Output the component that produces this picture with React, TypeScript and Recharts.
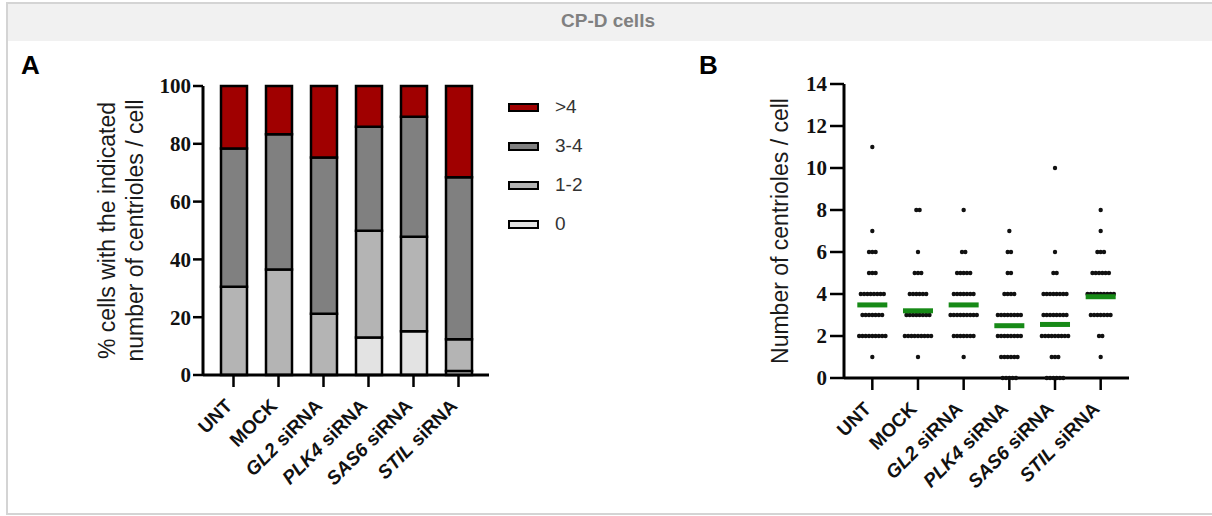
import React from 'react';
import { BarChart, Bar, XAxis, YAxis, ScatterChart, Scatter, Label } from 'recharts';

// ---------- DATA ----------
const categories = ['UNT', 'MOCK', 'GL2 siRNA', 'PLK4 siRNA', 'SAS6 siRNA', 'STIL siRNA'];

// Panel A: % cells per centriole-count class (stacked)
const pctZero = [0, 0, 0, 13.0, 15.1, 1.4];
const pctOneTwo = [30.5, 36.5, 21.2, 36.9, 32.7, 11.0];
const pctThreeFour = [47.9, 46.8, 54.1, 36.0, 41.6, 56.0];
const pctOverFour = [21.6, 16.7, 24.7, 14.1, 10.6, 31.6];

const percentTicks = [0, 20, 40, 60, 80, 100];
const countTicks = [0, 2, 4, 6, 8, 10, 12, 14];

// Panel B: number of cells observed with N centrioles (index = N)
const countsUNT = [0, 1, 9, 7, 8, 3, 3, 1, 0, 0, 0, 1];
const countsMOCK = [0, 1, 9, 8, 6, 3, 1, 0, 2];
const countsGL2 = [0, 1, 7, 9, 7, 5, 2, 0, 1];
const countsPLK4 = [5, 6, 8, 8, 4, 2, 2, 1];
const countsSAS6 = [6, 3, 9, 8, 8, 2, 1, 0, 0, 0, 1];
const countsSTIL = [0, 1, 2, 7, 9, 6, 3, 1, 1];
const meanCentrioles = [3.48, 3.2, 3.48, 2.49, 2.55, 3.87];

// ---------- derived tables ----------
const barData = categories.map((name, i) => ({
  name,
  zero: pctZero[i],
  oneTwo: pctOneTwo[i],
  threeFour: pctThreeFour[i],
  overFour: pctOverFour[i],
}));

const allCounts = [countsUNT, countsMOCK, countsGL2, countsPLK4, countsSAS6, countsSTIL];
const DOT_STEP = 0.072; // horizontal spread between neighbouring dots (category units)
const dotData: { x: number; y: number }[] = [];
allCounts.forEach((counts, ci) => {
  counts.forEach((n, value) => {
    for (let k = 0; k < n; k++) {
      dotData.push({ x: ci + (k - (n - 1) / 2) * DOT_STEP, y: value });
    }
  });
});
const meanData = meanCentrioles.map((m, i) => ({ x: i, y: m }));

const legendItems = [
  { label: '>4', color: '#a00000' },
  { label: '3-4', color: '#808080' },
  { label: '1-2', color: '#b4b4b4' },
  { label: '0', color: '#e3e3e3' },
];

// ---------- helpers ----------
const SANS = '"Liberation Sans", Arial, sans-serif';
const SERIF = '"Liberation Serif", "Times New Roman", serif';

const CatTick = (props: any) => {
  const { x, y, payload } = props;
  const name: string = typeof payload.value === 'number' ? categories[payload.value] : payload.value;
  const hasSi = name.endsWith(' siRNA');
  const gene = hasSi ? name.replace(' siRNA', '') : name;
  return (
    <g transform={`translate(${x},${y + 20})`}>
      <text
        x={0}
        y={0}
        transform="rotate(-45)"
        textAnchor="end"
        fontFamily={SANS}
        fontWeight="bold"
        fontSize={19}
        fill="#111"
      >
        {hasSi ? <tspan fontStyle="italic">{gene}</tspan> : gene}
        {hasSi ? ' siRNA' : ''}
      </text>
    </g>
  );
};

const tickStyle = { fontFamily: SERIF, fontWeight: 700, fontSize: 21, fill: '#111' };

const Dot = (p: any) => <circle cx={p.cx} cy={p.cy} r={2.2} fill="#111" />;
const MeanBar = (p: any) => <rect x={p.cx - 15} y={p.cy - 2.5} width={30} height={5} fill="#178a17" />;

const AxisTitle = ({ x, y, text }: { x: number; y: number; text: string }) => (
  <text
    x={x}
    y={y}
    transform={`rotate(-90 ${x} ${y})`}
    textAnchor="middle"
    dominantBaseline="central"
    fontFamily={SANS}
    fontSize={23}
    fill="#1a1a1a"
  >
    {text}
  </text>
);

export default function App() {
  return (
    <div
      style={{
        position: 'absolute',
        left: 0,
        top: 0,
        width: 1212,
        height: 516,
        overflow: 'hidden',
        background: '#fff',
      }}
    >
      {/* card frame */}
      <div
        style={{
          position: 'absolute',
          left: 6,
          top: 2,
          width: 1240,
          height: 513,
          border: '2px solid #d4d4d4',
          boxSizing: 'border-box',
        }}
      />
      <div style={{ position: 'absolute', left: 8, top: 4, width: 1210, height: 37, background: '#f1f1f1' }} />
      <div
        style={{
          position: 'absolute',
          left: 458,
          top: 10,
          width: 300,
          textAlign: 'center',
          fontFamily: SANS,
          fontSize: 19,
          fontWeight: 600,
          color: '#808080',
        }}
      >
        CP-D cells
      </div>

      {/* panel letters */}
      <div style={{ position: 'absolute', left: 21, top: 50, fontFamily: SANS, fontWeight: 700, fontSize: 26, color: '#000' }}>A</div>
      <div style={{ position: 'absolute', left: 699, top: 50, fontFamily: SANS, fontWeight: 700, fontSize: 26, color: '#000' }}>B</div>

      {/* Panel A */}
      <div style={{ position: 'absolute', left: 0, top: 0 }}>
        <BarChart
          width={520}
          height={516}
          data={barData}
          margin={{ top: 86, right: 31, bottom: 111, left: 143 }}
          barSize={26}
        >
          <XAxis
            dataKey="name"
            height={30}
            padding={{ left: 8, right: 8 }}
            tick={<CatTick />}
            tickSize={12}
            tickMargin={0}
            interval={0}
            axisLine={{ stroke: '#000', strokeWidth: 3 }}
            tickLine={{ stroke: '#000', strokeWidth: 2.5 }}
          />
          <YAxis
            width={60}
            domain={[0, 100]}
            ticks={percentTicks}
            tick={tickStyle}
            tickSize={10}
            tickMargin={2}
            axisLine={{ stroke: '#000', strokeWidth: 3 }}
            tickLine={{ stroke: '#000', strokeWidth: 2.5 }}
          >
            <Label
              content={(p: any) => {
                const vb = p.viewBox;
                const cy = vb.y + vb.height / 2;
                return (
                  <g>
                    <AxisTitle x={vb.x - 36} y={cy} text="% cells with the indicated" />
                    <AxisTitle x={vb.x - 8} y={cy} text="number of centrioles / cell" />
                  </g>
                );
              }}
            />
          </YAxis>
          <Bar dataKey="zero" stackId="s" fill="#e3e3e3" stroke="#000" strokeWidth={2.5} isAnimationActive={false} />
          <Bar dataKey="oneTwo" stackId="s" fill="#b4b4b4" stroke="#000" strokeWidth={2.5} isAnimationActive={false} />
          <Bar dataKey="threeFour" stackId="s" fill="#808080" stroke="#000" strokeWidth={2.5} isAnimationActive={false} />
          <Bar dataKey="overFour" stackId="s" fill="#a00000" stroke="#000" strokeWidth={2.5} isAnimationActive={false} />
        </BarChart>
      </div>

      {/* Legend A */}
      {legendItems.map((it, i) => (
        <div
          key={it.label}
          style={{
            position: 'absolute',
            left: 508,
            top: 107 + i * 39 - 12,
            height: 24,
            display: 'flex',
            alignItems: 'center',
          }}
        >
          <div
            style={{
              width: 31,
              height: 9,
              background: it.color,
              border: '2px solid #000',
              boxSizing: 'border-box',
            }}
          />
          <span style={{ marginLeft: 16, fontFamily: SANS, fontSize: 19, color: '#333' }}>{it.label}</span>
        </div>
      ))}

      {/* Panel B */}
      <div style={{ position: 'absolute', left: 620, top: 0 }}>
        <ScatterChart width={592} height={516} margin={{ top: 84, right: 83, bottom: 108, left: 164 }}>
          <XAxis
            type="number"
            dataKey="x"
            domain={[-0.62, 5.62]}
            ticks={[0, 1, 2, 3, 4, 5]}
            height={30}
            tick={<CatTick />}
            tickSize={12}
            tickMargin={0}
            interval={0}
            axisLine={{ stroke: '#000', strokeWidth: 3 }}
            tickLine={{ stroke: '#000', strokeWidth: 2.5 }}
          />
          <YAxis
            type="number"
            dataKey="y"
            width={60}
            domain={[0, 14]}
            ticks={countTicks}
            tick={tickStyle}
            tickSize={14}
            tickMargin={3}
            axisLine={{ stroke: '#000', strokeWidth: 3 }}
            tickLine={{ stroke: '#000', strokeWidth: 2.5 }}
          >
            <Label
              content={(p: any) => {
                const vb = p.viewBox;
                return <AxisTitle x={vb.x - 4} y={vb.y + vb.height / 2} text="Number of centrioles / cell" />;
              }}
            />
          </YAxis>
          <Scatter data={dotData} shape={<Dot />} isAnimationActive={false} />
          <Scatter data={meanData} shape={<MeanBar />} isAnimationActive={false} />
        </ScatterChart>
      </div>
    </div>
  );
}
